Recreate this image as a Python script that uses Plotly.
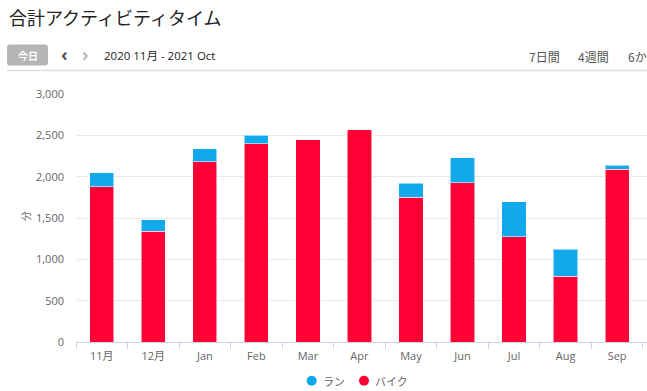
import plotly.graph_objects as go

months = ["11月", "12月", "Jan", "Feb", "Mar", "Apr", "May", "Jun", "Jul", "Aug", "Sep"]
bike = [1880, 1340, 2180, 2400, 2445, 2565, 1750, 1925, 1275, 795, 2090]
run = [165, 140, 155, 100, 0, 0, 170, 305, 420, 330, 50]
y_ticks = [0, 500, 1000, 1500, 2000, 2500, 3000]
y_labels = ["0", "500", "1,000", "1,500", "2,000", "2,500", "3,000"]
series_names = ["ラン", "バイク"]

RED = "#FF0035"
BLUE = "#12A8EC"
FONT = "Open Sans, Noto Sans CJK JP, sans-serif"
JP = "Noto Sans CJK JP, sans-serif"

W, H = 647, 391
L, R, T, B = 76, 0, 94, 49
PW = W - L - R
PH = H - T - B

def px(x):
    return (x - L) / PW

def py(y):
    return (H - B - y) / PH

fig = go.Figure()
fig.add_trace(go.Bar(x=months, y=bike, name=series_names[1], marker=dict(color=RED, line=dict(color="rgba(255,255,255,0.55)", width=1)), width=0.47))
fig.add_trace(go.Bar(x=months, y=run, name=series_names[0], marker=dict(color=BLUE, line=dict(color="rgba(255,255,255,0.55)", width=1)), width=0.47))

fig.update_layout(
    width=W, height=H,
    margin=dict(l=L, r=R, t=T, b=B),
    barmode="stack",
    plot_bgcolor="white", paper_bgcolor="white",
    font=dict(family=FONT, size=11, color="#666666"),
    showlegend=False,
    hovermode=False,
)
fig.update_xaxes(type="category", range=[-0.5, 10.58], showgrid=False, showline=True, linecolor="#ccd6eb",
                 linewidth=1, ticks="outside", tickson="boundaries", ticklen=6, tickcolor="#ccd6eb",
                 ticklabelstandoff=4,
                 tickfont=dict(family=FONT, size=11, color="#666666"), fixedrange=True)
fig.update_yaxes(range=[0, 3000], tickvals=y_ticks, ticktext=y_labels, showgrid=True, gridcolor="#e9e9e9",
                 zeroline=False, showline=False, ticks="", ticklabelstandoff=11,
                 tickfont=dict(family=FONT, size=11, color="#666666"), fixedrange=True)

ann = []
ann.append(dict(text="合計アクティビティタイム", x=px(7), y=py(17), xanchor="left", yanchor="middle",
                font=dict(family=JP, size=18, color="#222222")))
ann.append(dict(text="<b>今日</b>", x=px(27.5), y=py(55.5), xanchor="center", yanchor="middle",
                font=dict(family=JP, size=10, color="white")))
ann.append(dict(text="<b>‹</b>", x=px(64), y=py(54), xanchor="center", yanchor="middle",
                font=dict(family=FONT, size=18, color="#555555")))
ann.append(dict(text="<b>›</b>", x=px(85), y=py(54), xanchor="center", yanchor="middle",
                font=dict(family=FONT, size=18, color="#bbbbbb")))
ann.append(dict(text="2020 11月 - 2021 Oct", x=px(102), y=py(56), xanchor="left", yanchor="middle",
                font=dict(family=FONT, size=11.5, color="#222222")))
ann.append(dict(text="7日間", x=px(527), y=py(56.5), xanchor="left", yanchor="middle",
                font=dict(family=JP, size=12, color="#555555")))
ann.append(dict(text="4週間", x=px(576), y=py(56.5), xanchor="left", yanchor="middle",
                font=dict(family=JP, size=12, color="#555555")))
ann.append(dict(text="6か月", x=px(626), y=py(56.5), xanchor="left", yanchor="middle",
                font=dict(family=JP, size=12, color="#555555")))
ann.append(dict(text="分", x=px(25), y=py(216), xanchor="center", yanchor="middle", textangle=-90,
                font=dict(family=JP, size=10, color="#666666")))
# legend
ann.append(dict(text=series_names[0], x=px(321), y=py(381), xanchor="left", yanchor="middle",
                font=dict(family=JP, size=11, color="#666666")))
ann.append(dict(text=series_names[1], x=px(373), y=py(381), xanchor="left", yanchor="middle",
                font=dict(family=JP, size=11, color="#666666")))
for a in ann:
    a.update(xref="paper", yref="paper", showarrow=False)
fig.update_layout(annotations=ann)

def rounded(x0, y0, x1, y1, r):
    X0, X1, Y0, Y1 = px(x0), px(x1), py(y0), py(y1)
    rx, ry = r / PW, r / PH
    return (f"M {X0+rx},{Y0} L {X1-rx},{Y0} Q {X1},{Y0} {X1},{Y0-ry} L {X1},{Y1+ry} "
            f"Q {X1},{Y1} {X1-rx},{Y1} L {X0+rx},{Y1} Q {X0},{Y1} {X0},{Y1+ry} L {X0},{Y0-ry} "
            f"Q {X0},{Y0} {X0+rx},{Y0} Z")

def circ(cx, cy, r, color):
    return dict(type="circle", xref="paper", yref="paper", x0=px(cx - r), x1=px(cx + r),
                y0=py(cy + r), y1=py(cy - r), fillcolor=color, line=dict(width=0))

fig.update_layout(shapes=[
    dict(type="path", xref="paper", yref="paper", path=rounded(7, 44.5, 48, 65.5, 3),
         fillcolor="#b5b5b5", line=dict(width=0), layer="above"),
    dict(type="line", xref="paper", yref="paper", x0=px(7), x1=px(647), y0=py(70.5), y1=py(70.5),
         line=dict(color="#dddddd", width=1.5)),
    circ(311.7, 380.7, 5, BLUE),
    circ(364, 380.7, 5, RED),
])

fig.write_html("out.html", config={"displayModeBar": False},
               post_script="document.body.style.margin='0';document.body.style.overflow='hidden';")
